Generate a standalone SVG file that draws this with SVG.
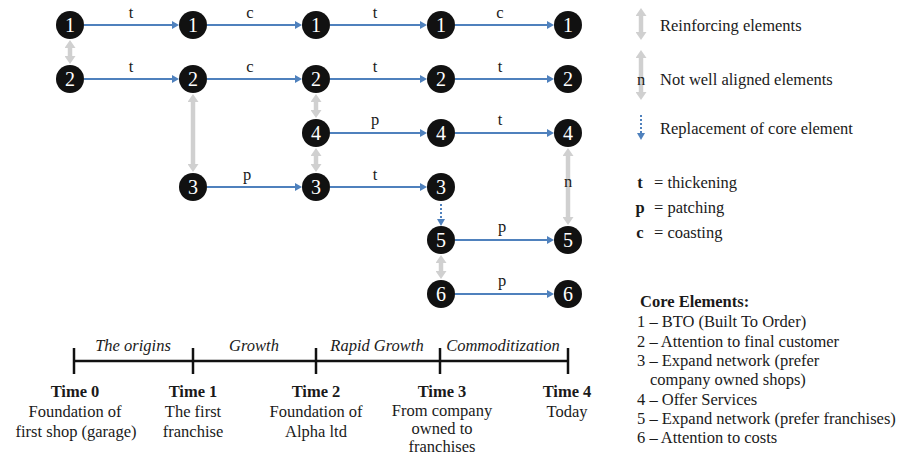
<svg xmlns="http://www.w3.org/2000/svg" width="901" height="457" viewBox="0 0 901 457">
<defs>
<style>
text{font-family:"Liberation Serif","Times New Roman",serif;fill:#1a1a1a;font-size:16.5px}
.n circle{fill:#111}
.n text{fill:#fff;font-size:20px;text-anchor:middle}
.lbl{text-anchor:middle}
.b{stroke:#4f81bd;stroke-width:2;fill:none;marker-end:url(#ba)}
.d{stroke:#4f81bd;stroke-width:2;fill:none;stroke-dasharray:2 2;marker-end:url(#ba)}
.g{stroke:#d0d0d0;stroke-width:4.5;fill:none;marker-start:url(#ga);marker-end:url(#ga)}
.bold{font-weight:bold}
.it{font-style:italic;text-anchor:middle}
.c{text-anchor:middle}
.tl{stroke:#111;stroke-width:2.5;fill:none}
</style>
<marker id="ba" markerUnits="userSpaceOnUse" markerWidth="8" markerHeight="8" refX="0" refY="4" orient="auto"><path d="M0,0 L7,4 L0,8 z" fill="#4f81bd"/></marker>
<marker id="ga" markerUnits="userSpaceOnUse" markerWidth="9" markerHeight="11" refX="0" refY="5.5" orient="auto-start-reverse"><path d="M0,0 L8,5.5 L0,11 z" fill="#d0d0d0"/></marker>
</defs>

<g id="connectors">
<line class="b" x1="84" y1="25" x2="172" y2="25"/>
<line class="b" x1="207" y1="25" x2="295" y2="25"/>
<line class="b" x1="330" y1="25" x2="420" y2="25"/>
<line class="b" x1="455" y1="25" x2="547" y2="25"/>
<line class="b" x1="84" y1="79" x2="172" y2="79"/>
<line class="b" x1="207" y1="79" x2="295" y2="79"/>
<line class="b" x1="330" y1="79" x2="420" y2="79"/>
<line class="b" x1="455" y1="79" x2="547" y2="79"/>
<line class="b" x1="330" y1="133" x2="420" y2="133"/>
<line class="b" x1="455" y1="133" x2="547" y2="133"/>
<line class="b" x1="207" y1="187" x2="295" y2="187"/>
<line class="b" x1="330" y1="187" x2="420" y2="187"/>
<line class="b" x1="455" y1="240" x2="547" y2="240"/>
<line class="b" x1="455" y1="294" x2="547" y2="294"/>
<line class="g" x1="70" y1="48" x2="70" y2="56"/>
<line class="g" x1="193" y1="102" x2="193" y2="164"/>
<line class="g" x1="316" y1="102" x2="316" y2="110"/>
<line class="g" x1="316" y1="156" x2="316" y2="164"/>
<line class="g" x1="568" y1="156" x2="568" y2="217"/>
<line class="g" x1="441" y1="263" x2="441" y2="271"/>
<line class="d" x1="441" y1="204" x2="441" y2="219"/>
<text class="lbl" x="131" y="18">t</text>
<text class="lbl" x="250" y="18">c</text>
<text class="lbl" x="375" y="18">t</text>
<text class="lbl" x="500" y="18">c</text>
<text class="lbl" x="131" y="72">t</text>
<text class="lbl" x="250" y="72">c</text>
<text class="lbl" x="375" y="72">t</text>
<text class="lbl" x="500" y="72">t</text>
<text class="lbl" x="375" y="125">p</text>
<text class="lbl" x="500" y="125">t</text>
<text class="lbl" x="247" y="180">p</text>
<text class="lbl" x="375" y="180">t</text>
<text class="lbl" x="502" y="232">p</text>
<text class="lbl" x="502" y="286">p</text>
<text class="lbl" x="568" y="187">n</text>
</g>

<g id="r1c1" class="n"><circle cx="70" cy="25" r="14"/><text x="70" y="32">1</text></g>
<g id="r1c2" class="n"><circle cx="193" cy="25" r="14"/><text x="193" y="32">1</text></g>
<g id="r1c3" class="n"><circle cx="316" cy="25" r="14"/><text x="316" y="32">1</text></g>
<g id="r1c4" class="n"><circle cx="441" cy="25" r="14"/><text x="441" y="32">1</text></g>
<g id="r1c5" class="n"><circle cx="568" cy="25" r="14"/><text x="568" y="32">1</text></g>

<g id="r2c1" class="n"><circle cx="70" cy="79" r="14"/><text x="70" y="86">2</text></g>
<g id="r2c2" class="n"><circle cx="193" cy="79" r="14"/><text x="193" y="86">2</text></g>
<g id="r2c3" class="n"><circle cx="316" cy="79" r="14"/><text x="316" y="86">2</text></g>
<g id="r2c4" class="n"><circle cx="441" cy="79" r="14"/><text x="441" y="86">2</text></g>
<g id="r2c5" class="n"><circle cx="568" cy="79" r="14"/><text x="568" y="86">2</text></g>

<g id="r4c3" class="n"><circle cx="316" cy="133" r="14"/><text x="316" y="140">4</text></g>
<g id="r4c4" class="n"><circle cx="441" cy="133" r="14"/><text x="441" y="140">4</text></g>
<g id="r4c5" class="n"><circle cx="568" cy="133" r="14"/><text x="568" y="140">4</text></g>

<g id="r3c2" class="n"><circle cx="193" cy="187" r="14"/><text x="193" y="194">3</text></g>
<g id="r3c3" class="n"><circle cx="316" cy="187" r="14"/><text x="316" y="194">3</text></g>
<g id="r3c4" class="n"><circle cx="441" cy="187" r="14"/><text x="441" y="194">3</text></g>

<g id="r5c4" class="n"><circle cx="441" cy="240" r="14"/><text x="441" y="247">5</text></g>
<g id="r5c5" class="n"><circle cx="568" cy="240" r="14"/><text x="568" y="247">5</text></g>

<g id="r6c4" class="n"><circle cx="441" cy="294" r="14"/><text x="441" y="301">6</text></g>
<g id="r6c5" class="n"><circle cx="568" cy="294" r="14"/><text x="568" y="301">6</text></g>

<g id="legend">
<line class="g" x1="641" y1="16" x2="641" y2="32"/>
<text x="660" y="31">Reinforcing elements</text>
<line class="g" x1="641" y1="58" x2="641" y2="92"/>
<text x="641" y="85" class="c">n</text>
<text x="660" y="85">Not well aligned elements</text>
<line class="d" x1="641" y1="115" x2="641" y2="133"/>
<text x="660" y="134">Replacement of core element</text>
<text x="640" y="188" class="bold c">t</text>
<text x="654" y="188">= thickening</text>
<text x="640" y="213" class="bold c">p</text>
<text x="654" y="213">= patching</text>
<text x="640" y="238" class="bold c">c</text>
<text x="654" y="238">= coasting</text>
</g>

<g id="core-elements">
<text x="640" y="307" class="bold">Core Elements:</text>
<text x="637" y="327">1 – BTO (Built To Order)</text>
<text x="637" y="347">2 – Attention to final customer</text>
<text x="637" y="366">3 – Expand network (prefer</text>
<text x="650" y="385">company owned shops)</text>
<text x="637" y="405">4 – Offer Services</text>
<text x="637" y="424">5 – Expand network (prefer franchises)</text>
<text x="637" y="443">6 – Attention to costs</text>
</g>

<g id="timeline">
<line class="tl" x1="74" y1="361" x2="568" y2="361"/>
<line class="tl" x1="74" y1="348" x2="74" y2="374"/>
<line class="tl" x1="193" y1="348" x2="193" y2="374"/>
<line class="tl" x1="316" y1="348" x2="316" y2="374"/>
<line class="tl" x1="440" y1="348" x2="440" y2="374"/>
<line class="tl" x1="568" y1="348" x2="568" y2="374"/>
<text x="133" y="351" class="it">The origins</text>
<text x="254" y="351" class="it">Growth</text>
<text x="377" y="351" class="it">Rapid Growth</text>
<text x="503" y="351" class="it">Commoditization</text>
<text x="75" y="397" class="bold c">Time 0</text>
<text x="75" y="417" class="c">Foundation of</text>
<text x="76" y="437" class="c">first shop (garage)</text>
<text x="193" y="397" class="bold c">Time 1</text>
<text x="193" y="417" class="c">The first</text>
<text x="193" y="437" class="c">franchise</text>
<text x="316" y="397" class="bold c">Time 2</text>
<text x="316" y="417" class="c">Foundation of</text>
<text x="316" y="437" class="c">Alpha ltd</text>
<text x="442" y="397" class="bold c">Time 3</text>
<text x="442" y="416" class="c">From company</text>
<text x="442" y="434" class="c">owned to</text>
<text x="442" y="452" class="c">franchises</text>
<text x="567" y="397" class="bold c">Time 4</text>
<text x="567" y="417" class="c">Today</text>
</g>
</svg>
